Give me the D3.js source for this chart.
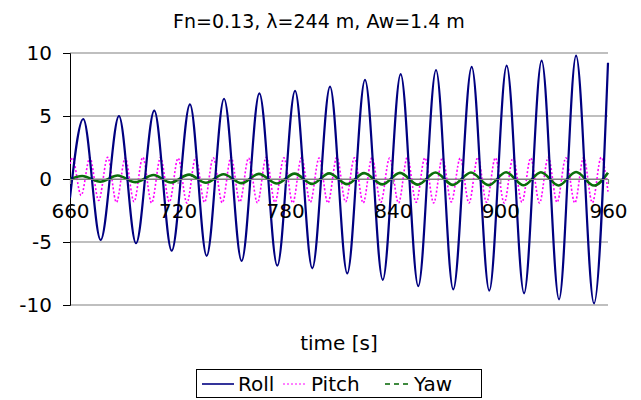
<!DOCTYPE html>
<html><head><meta charset="utf-8">
<script src="https://cdn.jsdelivr.net/npm/d3@7"></script>
<style>body{margin:0;background:#fff}svg{display:block}text{font-family:"DejaVu Sans",Verdana,sans-serif;fill:#000}</style>
</head><body>
<svg id="c" width="641" height="400"></svg>
<script>
const title = "Fn=0.13, \u03bb=244 m, Aw=1.4 m";
const xTicks = [660, 720, 780, 840, 900, 960];
const yTicks = [-10, -5, 0, 5, 10];
const seriesNames = ["Roll", "Pitch", "Yaw"];

// Roll: extrema (time s, value deg)
const rollT = [660, 667.4, 677.1, 687.3, 696.8, 707.0, 716.7, 726.9, 736.2, 745.9, 755.7, 765.6, 775.6, 785.5, 795.1, 805.0, 814.6, 824.5, 834.4, 844.4, 854.2, 864.1, 873.7, 884.0, 893.8, 903.5, 913.2, 923.0, 932.7, 942.2, 952.2, 960];
const rollV = [-1.5, 4.76, -4.84, 5.0, -5.1, 5.42, -5.69, 5.93, -6.1, 6.37, -6.5, 6.8, -6.88, 7.0, -7.09, 7.33, -7.49, 7.86, -8.0, 8.33, -8.5, 8.65, -8.76, 8.9, -8.86, 9.0, -9.07, 9.39, -9.55, 9.79, -9.87, 9.23];

// Pitch extrema
const pitchT = [660, 661.3, 666.2, 671.1, 676.0, 681.0, 685.9, 690.8, 695.7, 700.6, 705.5, 710.5, 715.4, 720.3, 725.2, 730.1, 735.0, 739.9, 744.9, 749.8, 754.7, 759.6, 764.5, 769.4, 774.3, 779.3, 784.2, 789.1, 794.0, 798.9, 803.8, 808.8, 813.7, 818.6, 823.5, 828.4, 833.3, 838.2, 843.2, 848.1, 853.0, 857.9, 862.8, 867.7, 872.6, 877.6, 882.5, 887.4, 892.3, 897.2, 902.1, 907.1, 912.0, 916.9, 921.8, 926.7, 931.6, 936.5, 941.5, 946.4, 951.3, 956.2, 960];
const pitchV = [1.2, 1.7, -1.3, 1.68, -1.7, 1.72, -1.85, 1.66, -1.8, 1.72, -1.9, 1.7, -1.82, 1.65, -1.9, 1.72, -1.85, 1.68, -1.88, 1.72, -1.82, 1.66, -1.9, 1.72, -1.85, 1.68, -1.9, 1.7, -1.85, 1.66, -1.9, 1.72, -1.82, 1.68, -1.9, 1.7, -1.85, 1.66, -1.9, 1.72, -1.85, 1.68, -1.9, 1.7, -1.82, 1.66, -1.9, 1.72, -1.85, 1.68, -1.9, 1.7, -1.85, 1.66, -1.9, 1.72, -1.85, 1.68, -1.9, 1.7, -1.88, 1.72, -1.0];

// Yaw extrema
const yawT = [660, 666.8, 676.9, 686.6, 696.5, 706.6, 716.2, 726.4, 735.8, 745.6, 755.7, 765.3, 775.4, 785.2, 795.0, 804.5, 814.5, 824.0, 834.2, 844.0, 854.0, 863.8, 873.5, 883.6, 893.5, 903.2, 913.0, 922.6, 932.5, 942.2, 952.2, 960];
const yawV = [0.0, 0.24, -0.22, 0.28, -0.25, 0.32, -0.28, 0.35, -0.3, 0.38, -0.33, 0.41, -0.36, 0.43, -0.39, 0.45, -0.41, 0.47, -0.43, 0.49, -0.45, 0.51, -0.47, 0.52, -0.49, 0.53, -0.5, 0.54, -0.51, 0.55, -0.52, 0.5];

const svg = d3.select("#c");
const L = 70, R = 608, T = 53, B = 305;
const x = d3.scaleLinear().domain([660, 960]).range([L, R]);
const y = d3.scaleLinear().domain([-10, 10]).range([B, T]);

// title
svg.append("text").attr("x", 319).attr("y", 28).attr("text-anchor", "middle")
  .style("font-size", "19px").text(title);

// gridlines
svg.append("g").selectAll("line").data(yTicks).join("line")
  .attr("x1", L).attr("x2", R).attr("y1", d => y(d)).attr("y2", d => y(d))
  .attr("stroke", "#808080").attr("stroke-width", 1.2);

// y axis
const ya = svg.append("g").attr("transform", `translate(${L},0)`)
  .call(d3.axisLeft(y).tickValues(yTicks).tickFormat(d => String(d)).tickSize(7).tickPadding(11));
ya.select(".domain").attr("stroke", "#000");
ya.selectAll(".tick line").attr("stroke", "#000");
ya.selectAll("text").style("font-size", "20px").style("font-family", "DejaVu Sans");

// clip
svg.append("clipPath").attr("id", "clip").append("rect")
  .attr("x", L).attr("y", T - 5).attr("width", R - L + 2).attr("height", B - T + 10);

const plot = svg.append("g").attr("clip-path", "url(#clip)");
const mk = (ts, vs) => ts.map((t, i) => [t, vs[i]]);
const line = d3.line().x(d => x(d[0])).y(d => y(d[1])).curve(d3.curveMonotoneX);

plot.append("path").datum(mk(pitchT, pitchV)).attr("d", line)
  .attr("fill", "none").attr("stroke", "#ff00ff").attr("stroke-width", 1.6).attr("stroke-dasharray", "2,2");
plot.append("path").datum(mk(yawT, yawV)).attr("d", line)
  .attr("fill", "none").attr("stroke", "#0b6e0b").attr("stroke-width", 2.6);
plot.append("path").datum(mk(rollT, rollV)).attr("d", line)
  .attr("fill", "none").attr("stroke", "#000080").attr("stroke-width", 2.2);

// x axis at zero
const xa = svg.append("g").attr("transform", `translate(0,${y(0)})`)
  .call(d3.axisBottom(x).tickValues(xTicks).tickFormat(d => String(d)).tickSize(5).tickPadding(20));
xa.select(".domain").attr("stroke", "#808080").attr("stroke-width", 1.2);
xa.selectAll(".tick line").attr("stroke", "#808080");
xa.selectAll("text").style("font-size", "20px").style("font-family", "DejaVu Sans");

// x label
svg.append("text").attr("x", 339).attr("y", 350).attr("text-anchor", "middle")
  .style("font-size", "20px").text("time [s]");

// legend
const lg = svg.append("g");
lg.append("rect").attr("x", 196.5).attr("y", 369.5).attr("width", 285).attr("height", 28)
  .attr("fill", "#fff").attr("stroke", "#000");
const items = [
  {n: seriesNames[0], c: "#000080", d: null, x1: 202, x2: 234, tx: 238},
  {n: seriesNames[1], c: "#ff00ff", d: "2,2", x1: 283, x2: 307, tx: 311},
  {n: seriesNames[2], c: "#006400", d: "5,4", x1: 385, x2: 410, tx: 414}
];
items.forEach(it => {
  lg.append("line").attr("x1", it.x1).attr("x2", it.x2).attr("y1", 384).attr("y2", 384)
    .attr("stroke", it.c).attr("stroke-width", it.n === "Pitch" ? 1 : 1.6).attr("stroke-dasharray", it.d);
  lg.append("text").attr("x", it.tx).attr("y", 391).style("font-size", "20px").text(it.n);
});
</script>
</body></html>
